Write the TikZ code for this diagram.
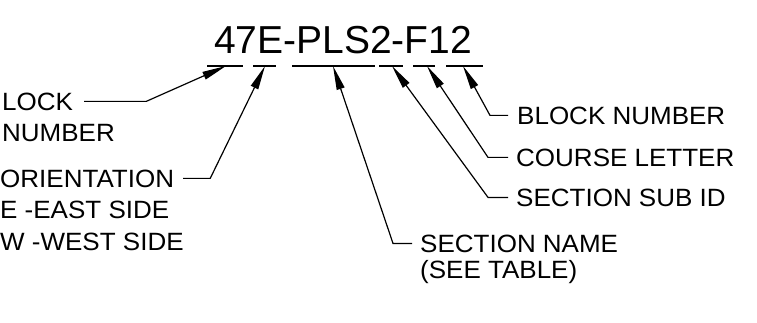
\documentclass[tikz,border=0pt]{standalone}
\usepackage{fontspec}
\setmainfont{Liberation Sans}
\newfontfamily\lblfont[FakeStretch=1.04]{Liberation Sans}
\usetikzlibrary{arrows.meta}

\begin{document}
\begin{tikzpicture}[x=1pt,y=-1pt]
                \tikzstyle{lbl} = [anchor=base west, inner sep=0pt, font=\lblfont\fontsize{25}{30}\selectfont]
                \tikzstyle{leader} = [line width=1.2pt,-{Triangle[length=24pt,width=8pt]}]
                \tikzstyle{uline} = [line width=1.2pt]
                \useasboundingbox (0,0) rectangle (757,322);

                \node (code) [anchor=base west, inner sep=0pt, font=\fontsize{39}{47}\selectfont] at (214,53) {47E-PLS2-F12};
                % dashes under the code
                \foreach \a/\b in {207/243, 253/276, 292/375, 379/403, 413/435, 446/483}
                    \draw [uline] (\a,66) -- (\b,66);
                \coordinate (tip1) at (226,66);
                \coordinate (tip2) at (265,66);
                \coordinate (tip3) at (333,66);
                \coordinate (tip4) at (392,66);
                \coordinate (tip5) at (427,66);
                \coordinate (tip6) at (463,66);

                \node (lock) [lbl] at (2,110) {LOCK};
                \node (lock2) [lbl] at (2,141) {NUMBER};
                \node (orient) [lbl] at (0,187) {ORIENTATION};
                \node (orient2) [lbl] at (0,218) {E -EAST SIDE};
                \node (orient3) [lbl] at (0,250) {W -WEST SIDE};
                \node (sname) [lbl] at (420,252) {SECTION NAME};
                \node (sname2) [lbl] at (420,278) {(SEE TABLE)};
                \node (subid) [lbl] at (516,206) {SECTION SUB ID};
                \node (course) [lbl] at (516,166) {COURSE LETTER};
                \node (block) [lbl] at (517,124) {BLOCK NUMBER};

                \draw [leader] ([xshift=11pt]lock.east) -- ++(62,0) -- (tip1);
                \draw [leader] ([xshift=9pt]orient.east) -- ++(27,0) -- (tip2);
                \draw [leader] ([xshift=-8pt]sname.west) -- ++(-19,0) -- (tip3);
                \draw [leader] ([xshift=-8pt]subid.west) -- ++(-20,0) -- (tip4);
                \draw [leader] ([xshift=-8pt]course.west) -- ++(-20,0) -- (tip5);
                \draw [leader] ([xshift=-9pt]block.west) -- ++(-18,0) -- (tip6);

            \end{tikzpicture}
\end{document}
